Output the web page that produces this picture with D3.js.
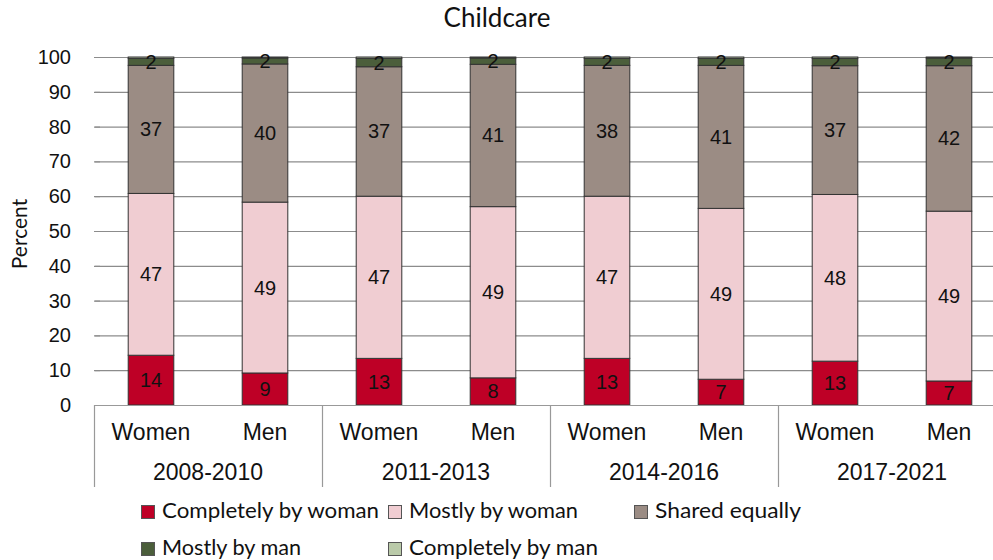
<!DOCTYPE html>
<html><head><meta charset="utf-8">
<script src="https://cdn.jsdelivr.net/npm/d3@7"></script>
<style>body{margin:0;background:#fff}</style>
</head><body>
<svg id="chart" width="993" height="560"></svg>
<script>
const periods = ["2008-2010","2011-2013","2014-2016","2017-2021"];
const genders = ["Women","Men"];
const seriesNames = ["Completely by woman","Mostly by woman","Shared equally","Mostly by man","Completely by man"];
const colors = ["#BE0026","#F0CDD2","#9B8C84","#4B5E3B","#BACAA9"];
// per bar, order: 2008 W, 2008 M, 2011 W, 2011 M, 2014 W, 2014 M, 2017 W, 2017 M
const completelyByWoman = [14.3, 9.2, 13.4, 7.8, 13.4, 7.4, 12.6, 6.9];
const mostlyByWoman     = [46.5, 49.1, 46.6, 49.2, 46.6, 49.1, 47.9, 48.8];
const sharedEqually     = [36.8, 39.7, 37.2, 40.9, 37.6, 41.1, 37.0, 41.8];
const mostlyByMan       = [2.0, 1.7, 2.4, 1.8, 2.0, 2.0, 2.1, 2.2];
const completelyByMan   = [0.4, 0.3, 0.4, 0.3, 0.4, 0.4, 0.4, 0.3];
const yTicks = [0,10,20,30,40,50,60,70,80,90,100];
const labelSeries = [0,1,2,3];

const allSeries = [completelyByWoman, mostlyByWoman, sharedEqually, mostlyByMan, completelyByMan];
const bars = [];
periods.forEach((p,i)=>genders.forEach((g,j)=>bars.push({key:p+"|"+g, period:p, gender:g, idx:i*2+j})));
const rows = bars.map(b=>{const r={key:b.key}; seriesNames.forEach((s,k)=>r[s]=allSeries[k][b.idx]); return r;});
const stacked = d3.stack().keys(seriesNames)(rows);

const svg = d3.select("#chart");
const pLeft = 94, pRight = 1006, pTop = 57, pBottom = 405;
const x0 = d3.scaleBand().domain(periods).range([pLeft,pRight]);
const x1 = d3.scaleBand().domain(genders).range([0,x0.bandwidth()]).paddingInner(0.6).paddingOuter(0.3);
const y = d3.scaleLinear().domain([0,100]).range([pBottom,pTop]);
const barX = key => { const [p,g]=key.split("|"); return x0(p)+x1(g); };
const AX = "Liberation Sans, Arial, sans-serif";

// title
svg.append("text").attr("x",497).attr("y",27).attr("text-anchor","middle")
  .style("font-family","Lato, sans-serif").style("font-size","26px").attr("fill","#111").text("Childcare");

// gridlines
svg.append("g").selectAll("line").data(yTicks.filter(t=>t>0)).join("line")
  .attr("x1",pLeft).attr("x2",993).attr("y1",d=>y(d)+0.5).attr("y2",d=>y(d)+0.5)
  .attr("stroke","#8c8c8c").attr("stroke-width",1.2);

// y axis
const yAxis = d3.axisLeft(y).tickValues(yTicks).tickSize(0).tickPadding(23);
const ya = svg.append("g").attr("transform",`translate(${pLeft},0)`).call(yAxis);
ya.select(".domain").remove();
ya.selectAll("text").style("font-family",AX).style("font-size","20px").attr("fill","#111");
svg.append("g").selectAll("line").data(yTicks.filter(t=>t>0)).join("line")
  .attr("x1",95).attr("x2",100).attr("y1",d=>y(d)+0.5).attr("y2",d=>y(d)+0.5).attr("stroke","#8c8c8c");

svg.append("text").attr("transform","translate(27,234) rotate(-90)").attr("text-anchor","middle")
  .style("font-family","Lato, sans-serif").style("font-size","21px").attr("fill","#111").text("Percent");

// bars
const g = svg.append("g");
stacked.forEach((s,k)=>{
  g.append("g").selectAll("rect").data(s).join("rect")
    .attr("x",d=>barX(d.data.key)).attr("width",x1.bandwidth())
    .attr("y",d=>y(d[1])).attr("height",d=>y(d[0])-y(d[1]))
    .attr("fill",colors[k]).attr("stroke","#333").attr("stroke-width",1);
});
// labels
labelSeries.forEach(k=>{
  g.append("g").selectAll("text").data(stacked[k]).join("text")
    .attr("x",d=>barX(d.data.key)+x1.bandwidth()/2)
    .attr("y",d=>(y(d[0])+y(d[1]))/2+7).attr("text-anchor","middle")
    .style("font-family",AX).style("font-size","20px").attr("fill","#111")
    .text(d=>Math.round(d[1]-d[0]));
});

// x axis
svg.append("line").attr("x1",pLeft).attr("x2",993).attr("y1",pBottom+0.5).attr("y2",pBottom+0.5).attr("stroke","#999").attr("stroke-width",1.2);
svg.append("g").selectAll("line").data(periods).join("line")
  .attr("x1",d=>x0(d)+0.5).attr("x2",d=>x0(d)+0.5).attr("y1",pBottom).attr("y2",487)
  .attr("stroke","#999").attr("stroke-width",1.2);
bars.forEach(b=>{
  svg.append("text").attr("x",x0(b.period)+x1(b.gender)+x1.bandwidth()/2).attr("y",440).attr("text-anchor","middle")
    .style("font-family",AX).style("font-size","23px").attr("fill","#111").text(b.gender);
});
svg.append("g").selectAll("text").data(periods).join("text")
  .attr("x",d=>x0(d)+x0.bandwidth()/2).attr("y",480).attr("text-anchor","middle")
  .style("font-family",AX).style("font-size","23px").attr("fill","#111").text(d=>d);

// legend
const legPos = [[141,505],[388,505],[634,505],[141,542],[388,542]];
const legTextW = [217,169,146,139,189];
const leg = svg.append("g").selectAll("g").data(seriesNames).join("g")
  .attr("transform",(d,i)=>`translate(${legPos[i][0]},${legPos[i][1]})`);
leg.append("rect").attr("x",0.5).attr("y",0.5).attr("width",13).attr("height",13).attr("fill",(d,i)=>colors[i]).attr("stroke","#555");
leg.append("text").attr("x",21).attr("y",13)
  .attr("textLength",(d,i)=>legTextW[i]).attr("lengthAdjust","spacingAndGlyphs")
  .style("font-family","Lato, sans-serif").style("font-size","22px").attr("fill","#111").text(d=>d);
</script>
</body></html>
